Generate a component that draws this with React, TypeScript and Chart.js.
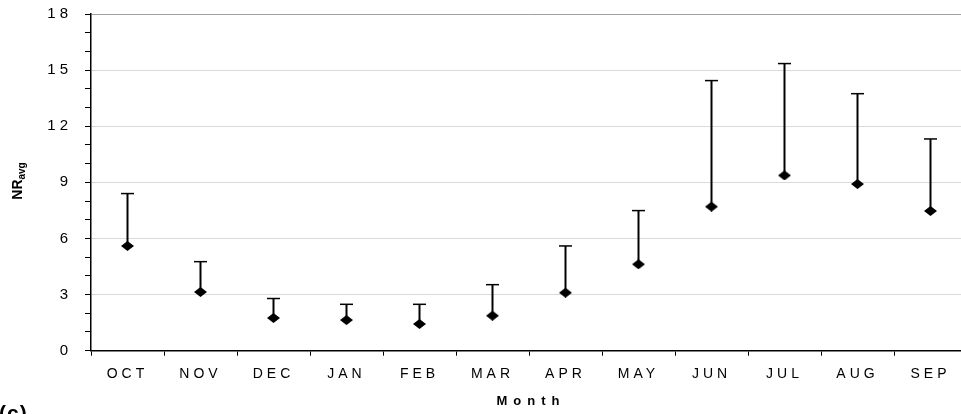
import React, { useEffect, useRef } from "react";
import { Chart, registerables } from "chart.js";

Chart.register(...registerables);

// ---- data ----
const months = ["OCT", "NOV", "DEC", "JAN", "FEB", "MAR", "APR", "MAY", "JUN", "JUL", "AUG", "SEP"];
const nrAvg = [5.6, 3.14, 1.75, 1.64, 1.43, 1.87, 3.1, 4.62, 7.7, 9.37, 8.91, 7.47];
const nrUpperError = [2.8, 1.62, 1.04, 0.84, 1.05, 1.66, 2.5, 2.87, 6.74, 5.98, 4.83, 3.85];
const yMin = 0;
const yMax = 18;
const yMinorStep = 1;
const yLabelStep = 3;
const xTitle = "Month";
const yTitleMain = "NR";
const yTitleSub = "avg";
const panelLabel = "(c)";

const FONT = "'Liberation Sans', Arial, Helvetica, sans-serif";

function makeDiamond(): HTMLCanvasElement {
  const c = document.createElement("canvas");
  c.width = 13;
  c.height = 10;
  const g = c.getContext("2d")!;
  g.fillStyle = "#000";
  g.beginPath();
  g.moveTo(6.5, 0);
  g.lineTo(13, 5);
  g.lineTo(6.5, 10);
  g.lineTo(0, 5);
  g.closePath();
  g.fill();
  return c;
}

const errorBarsPlugin = {
  id: "errorBars",
  beforeDatasetsDraw(chart: any) {
    const { ctx, scales } = chart;
    const x = scales.x;
    const y = scales.y;
    ctx.save();
    ctx.strokeStyle = "#000";
    nrAvg.forEach((v, i) => {
      const px = x.getPixelForValue(i);
      const p0 = y.getPixelForValue(v);
      const p1 = y.getPixelForValue(v + nrUpperError[i]);
      ctx.lineWidth = 2;
      ctx.beginPath();
      ctx.moveTo(px, p0);
      ctx.lineTo(px, p1);
      ctx.stroke();
      ctx.lineWidth = 1.5;
      ctx.beginPath();
      ctx.moveTo(px - 6.5, p1);
      ctx.lineTo(px + 6.5, p1);
      ctx.stroke();
    });
    ctx.restore();
  },
};

const textPlugin = {
  id: "spacedText",
  beforeDraw(chart: any) {
    (chart.ctx as any).letterSpacing = "4px";
  },
  afterDraw(chart: any) {
    const ctx = chart.ctx;
    const area = chart.chartArea;
    ctx.save();
    // x axis title
    (ctx as any).letterSpacing = "6px";
    ctx.fillStyle = "#000";
    ctx.font = `bold 13px ${FONT}`;
    ctx.textAlign = "center";
    ctx.textBaseline = "middle";
    ctx.fillText(xTitle, (area.left + area.right) / 2 + 2, 401.5);
    // y axis title (rotated, with subscript)
    (ctx as any).letterSpacing = "0px";
    ctx.translate(21.5, 181);
    ctx.rotate(-Math.PI / 2);
    ctx.textAlign = "left";
    ctx.textBaseline = "alphabetic";
    ctx.font = `bold 14px ${FONT}`;
    const wMain = ctx.measureText(yTitleMain).width;
    ctx.font = `bold 10px ${FONT}`;
    const wSub = ctx.measureText(yTitleSub).width;
    const start = -(wMain + wSub) / 2;
    ctx.font = `bold 14px ${FONT}`;
    ctx.fillText(yTitleMain, start, 0);
    ctx.font = `bold 10px ${FONT}`;
    ctx.fillText(yTitleSub, start + wMain, 3.5);
    ctx.restore();
    (ctx as any).letterSpacing = "0px";
  },
};

export default function App() {
  const ref = useRef<HTMLCanvasElement | null>(null);

  useEffect(() => {
    if (!ref.current) return;
    const diamond = makeDiamond();
    const chart = new Chart(ref.current, {
      type: "line",
      data: {
        labels: months,
        datasets: [
          {
            data: nrAvg,
            showLine: false,
            pointStyle: diamond as any,
            pointRadius: 6,
            borderColor: "#000",
            backgroundColor: "#000",
          },
        ],
      },
      options: {
        responsive: false,
        animation: false,
        devicePixelRatio: 1,
        layout: { padding: { top: 14, right: 8, left: 0, bottom: 0 } },
        font: { family: FONT },
        plugins: {
          legend: { display: false },
          tooltip: { enabled: false },
          title: { display: false },
        },
        scales: {
          x: {
            type: "category",
            offset: true,
            grid: {
              offset: true,
              drawOnChartArea: false,
              drawTicks: true,
              tickLength: 5,
              tickColor: "#000",
            },
            border: { color: "#000", width: 1.5 },
            ticks: {
              padding: 10,
              color: "#000",
              font: { size: 14, family: FONT },
              maxRotation: 0,
              autoSkip: false,
            },
            afterFit: (s: any) => {
              s.height = 63.3;
            },
          },
          y: {
            min: yMin,
            max: yMax,
            ticks: {
              stepSize: yMinorStep,
              autoSkip: false,
              padding: 13,
              color: "#000",
              font: { size: 15, family: FONT },
              callback: (v: any) => (Number(v) % yLabelStep === 0 ? String(v) : ""),
            },
            grid: {
              color: (c: any) => {
                const val = c.tick ? c.tick.value : null;
                if (val === yMax) return "#a0a0a0";
                if (val !== null && val % yLabelStep === 0) return "#d9d9d9";
                return "rgba(0,0,0,0)";
              },
              tickColor: "#000",
              tickLength: 6,
              lineWidth: 1,
            },
            border: { color: "#000", width: 1.5 },
            afterFit: (s: any) => {
              s.width = 91;
              s.paddingTop = 0;
              s.paddingBottom = 0;
            },
          },
        },
      } as any,
      plugins: [errorBarsPlugin, textPlugin],
    });
    return () => chart.destroy();
  }, []);

  return (
    <div
      style={{
        position: "absolute",
        left: 0,
        top: 0,
        width: 961,
        height: 414,
        overflow: "hidden",
        background: "#fff",
      }}
    >
      <canvas ref={ref} width={975} height={414} style={{ display: "block", width: 975, height: 414 }} />
      <div
        style={{
          position: "absolute",
          left: -1,
          top: 402,
          fontFamily: FONT,
          fontWeight: "bold",
          fontSize: 21,
          lineHeight: "21px",
          letterSpacing: "1px",
          whiteSpace: "nowrap",
          color: "#000",
        }}
      >
        {panelLabel}
      </div>
    </div>
  );
}
